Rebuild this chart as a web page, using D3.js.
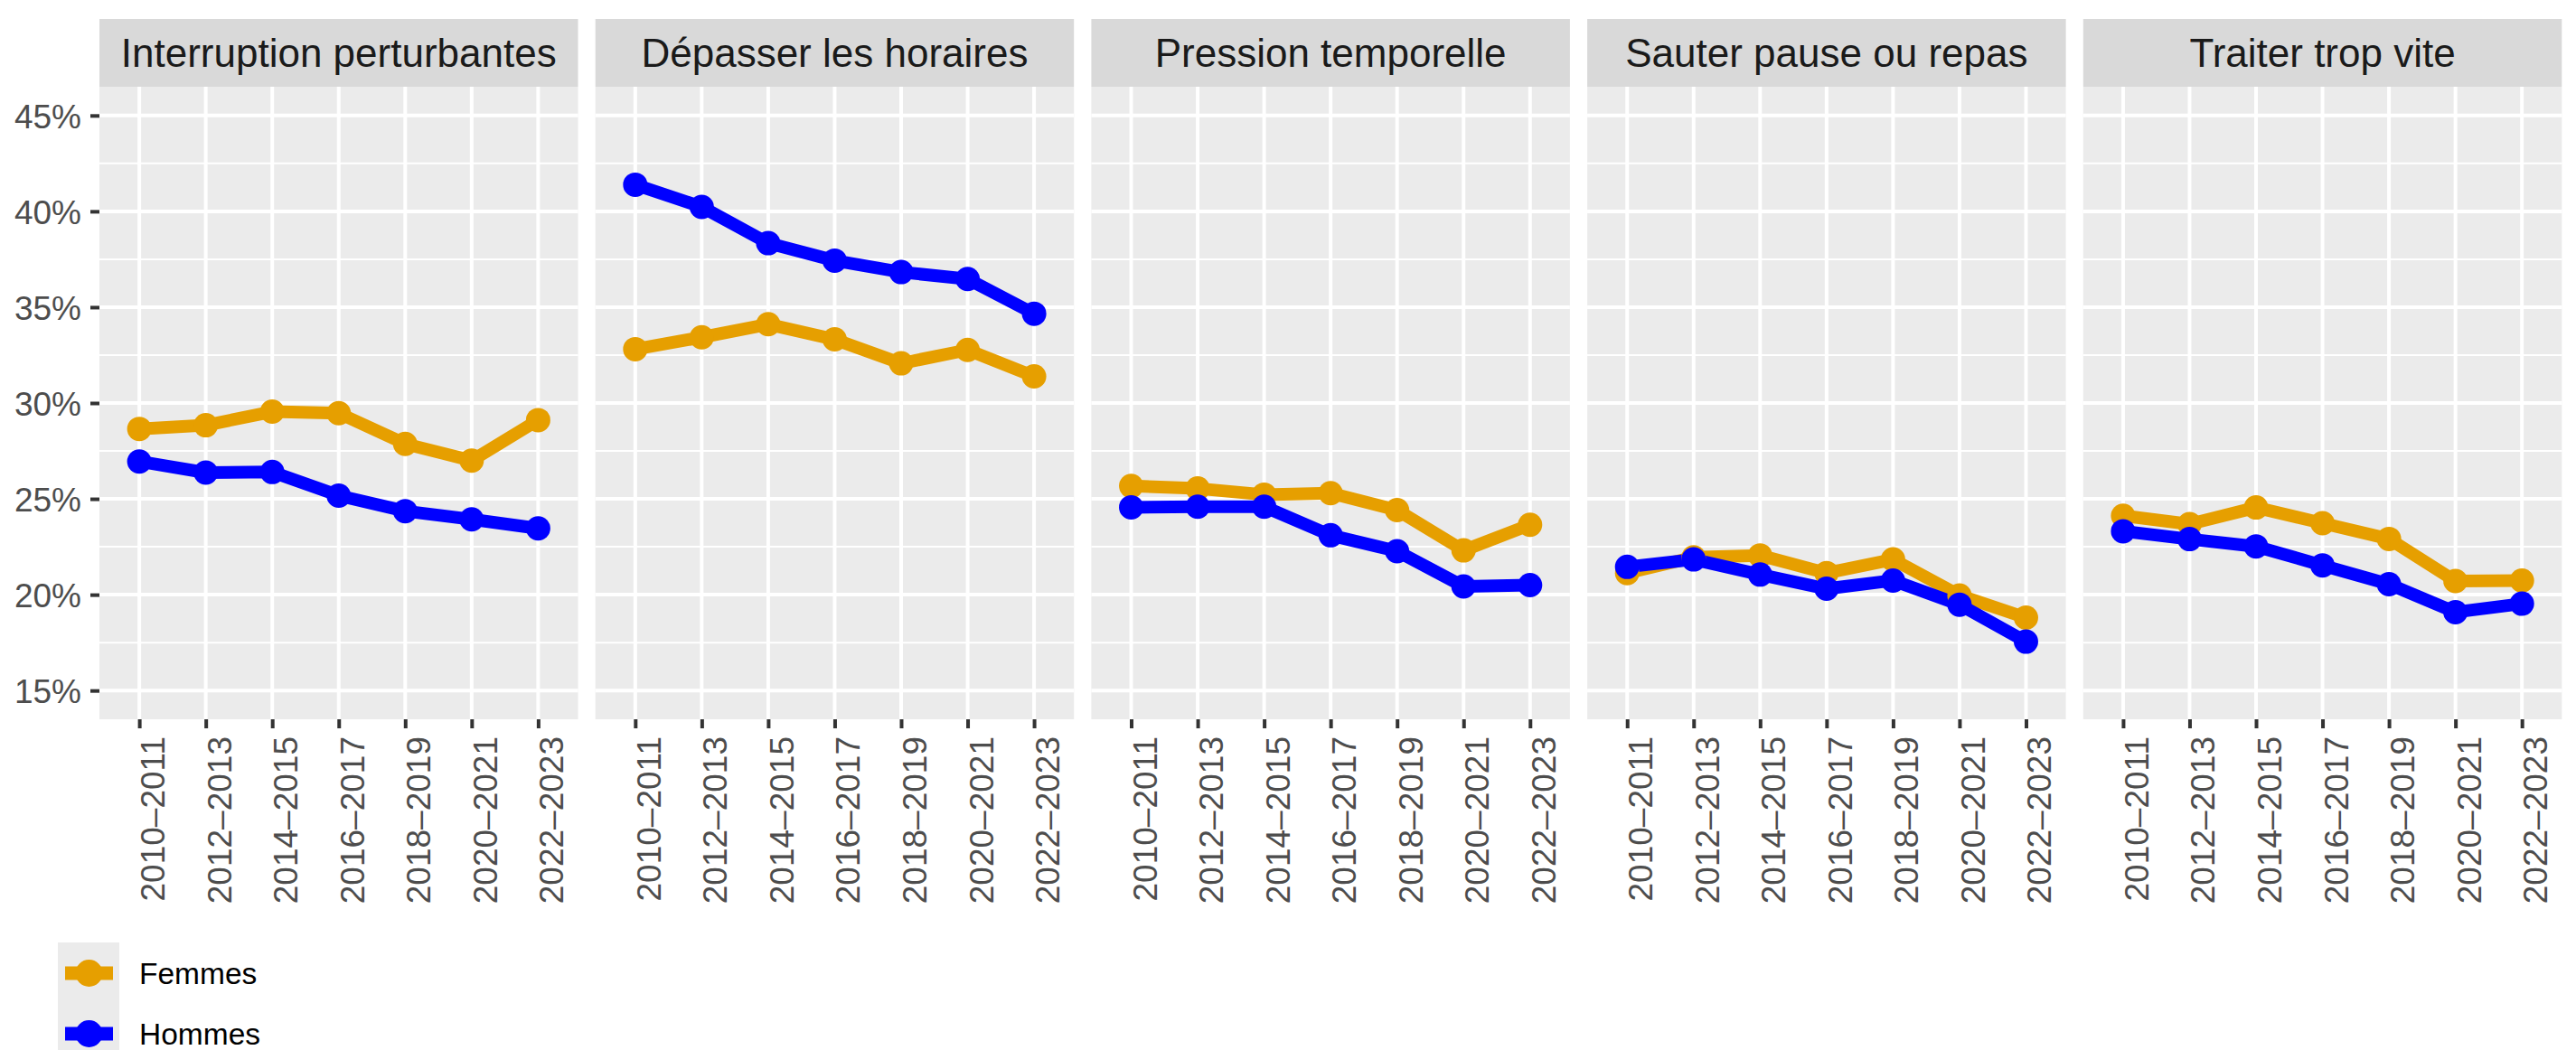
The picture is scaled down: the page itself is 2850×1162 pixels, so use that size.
<!DOCTYPE html>
<html>
<head>
<meta charset="utf-8">
<script src="https://cdn.jsdelivr.net/npm/d3@7"></script>
<style>
  body { margin: 0; background: #fff; }
  svg { display: block; font-family: "Liberation Sans", Arial, sans-serif; }
</style>
</head>
<body>
<svg id="chart" width="2850" height="1162"></svg>
<script>
const periods = ["2010–2011", "2012–2013", "2014–2015", "2016–2017", "2018–2019", "2020–2021", "2022–2023"];
const facets = ["Interruption perturbantes", "Dépasser les horaires", "Pression temporelle", "Sauter pause ou repas", "Traiter trop vite"];
const yTicks = [15, 20, 25, 30, 35, 40, 45];
const yMinor = [17.5, 22.5, 27.5, 32.5, 37.5, 42.5];

// one row per facet, in facet order
const femmes = [
  [28.65, 28.84, 29.55, 29.47, 27.87, 27.0, 29.11],
  [32.81, 33.43, 34.11, 33.32, 32.07, 32.77, 31.39],
  [25.67, 25.54, 25.22, 25.30, 24.41, 22.31, 23.65],
  [21.13, 21.95, 22.05, 21.13, 21.84, 19.96, 18.80],
  [24.12, 23.68, 24.55, 23.73, 22.91, 20.71, 20.74]
];
const hommes = [
  [26.95, 26.37, 26.40, 25.17, 24.36, 23.93, 23.46],
  [41.39, 40.23, 38.34, 37.43, 36.83, 36.47, 34.66],
  [24.56, 24.59, 24.59, 23.10, 22.27, 20.43, 20.50],
  [21.45, 21.84, 21.05, 20.31, 20.74, 19.48, 17.55],
  [23.31, 22.90, 22.52, 21.53, 20.55, 19.09, 19.53]
];
const series = [
  { name: "Femmes", color: "#E69F00", values: femmes },
  { name: "Hommes", color: "#0000FF", values: hommes }
];

const svg = d3.select("#chart");

const panelLeft = 110;
const panelW = 529.5;
const panelStep = 548.7;
const stripTop = 21;
const plotTop = 96;
const plotBottom = 796;

const x = d3.scalePoint().domain(periods).range([0, panelW]).padding(0.6);
const y = d3.scaleLinear().domain([13.5, 46.5]).range([plotBottom, plotTop]);

const line = d3.line()
  .x((d, i) => x(periods[i]))
  .y(d => y(d));

facets.forEach((facet, fi) => {
  const g = svg.append("g")
    .attr("transform", `translate(${panelLeft + fi * panelStep}, 0)`);

  // strip
  g.append("rect")
    .attr("x", 0).attr("y", stripTop)
    .attr("width", panelW).attr("height", plotTop - stripTop)
    .attr("fill", "#D9D9D9");
  g.append("text")
    .attr("x", panelW / 2)
    .attr("y", (stripTop + plotTop) / 2 + 15.8)
    .attr("text-anchor", "middle")
    .attr("font-size", "44px")
    .attr("fill", "#1A1A1A")
    .text(facet);

  // panel background + grid
  g.append("rect")
    .attr("x", 0).attr("y", plotTop)
    .attr("width", panelW).attr("height", plotBottom - plotTop)
    .attr("fill", "#EBEBEB");

  g.selectAll(".minor")
    .data(yMinor)
    .enter()
    .append("line")
    .attr("x1", 0).attr("x2", panelW)
    .attr("y1", d => y(d)).attr("y2", d => y(d))
    .attr("stroke", "#fff")
    .attr("stroke-width", 2);

  g.selectAll(".major")
    .data(yTicks)
    .enter()
    .append("line")
    .attr("x1", 0).attr("x2", panelW)
    .attr("y1", d => y(d)).attr("y2", d => y(d))
    .attr("stroke", "#fff")
    .attr("stroke-width", 4);

  g.selectAll(".vgrid")
    .data(periods)
    .enter()
    .append("line")
    .attr("x1", d => x(d)).attr("x2", d => x(d))
    .attr("y1", plotTop).attr("y2", plotBottom)
    .attr("stroke", "#fff")
    .attr("stroke-width", 4);

  // x axis
  const xAxis = g.append("g")
    .attr("transform", `translate(0, ${plotBottom})`)
    .call(d3.axisBottom(x).tickSize(10).tickSizeOuter(0));
  xAxis.select(".domain").remove();
  xAxis.selectAll(".tick line").attr("stroke", "#333333").attr("stroke-width", 4);
  xAxis.selectAll(".tick text")
    .attr("x", 0).attr("y", 0).attr("dy", null)
    .attr("transform", "translate(27.5, 19) rotate(-90)")
    .attr("text-anchor", "end")
    .attr("font-size", "37px")
    .attr("font-family", null)
    .attr("fill", "#4D4D4D");

  // y axis only on first panel
  if (fi === 0) {
    const yAxis = g.append("g")
      .call(d3.axisLeft(y).tickValues(yTicks).tickSize(10).tickPadding(10)
        .tickFormat(d => d + "%"));
    yAxis.select(".domain").remove();
    yAxis.selectAll(".tick line").attr("stroke", "#333333").attr("stroke-width", 4);
    yAxis.selectAll(".tick text")
      .attr("dy", "13.3px")
      .attr("font-size", "37px")
      .attr("font-family", null)
      .attr("fill", "#4D4D4D");
  }

  // lines first, then points (as ggplot layers)
  series.forEach(s => {
    g.append("path")
      .datum(s.values[fi])
      .attr("fill", "none")
      .attr("stroke", s.color)
      .attr("stroke-width", 14)
      .attr("stroke-linejoin", "round")
      .attr("d", line);
  });
  series.forEach(s => {
    g.selectAll(null)
      .data(s.values[fi])
      .enter()
      .append("circle")
      .attr("cx", (d, i) => x(periods[i]))
      .attr("cy", d => y(d))
      .attr("r", 13.5)
      .attr("fill", s.color);
  });
});

// legend
const legend = svg.append("g");
series.forEach((s, i) => {
  const top = 1043 + i * 67;
  const cy = top + 34;
  legend.append("rect")
    .attr("x", 64).attr("y", top)
    .attr("width", 68).attr("height", 67)
    .attr("fill", "#EBEBEB");
  legend.append("line")
    .attr("x1", 72).attr("x2", 125)
    .attr("y1", cy).attr("y2", cy)
    .attr("stroke", s.color)
    .attr("stroke-width", 15);
  legend.append("circle")
    .attr("cx", 98.5).attr("cy", cy)
    .attr("r", 15)
    .attr("fill", s.color);
  legend.append("text")
    .attr("x", 154)
    .attr("y", cy + 12)
    .attr("font-size", "33.5px")
    .attr("fill", "#000")
    .text(s.name);
});
</script>
</body>
</html>
